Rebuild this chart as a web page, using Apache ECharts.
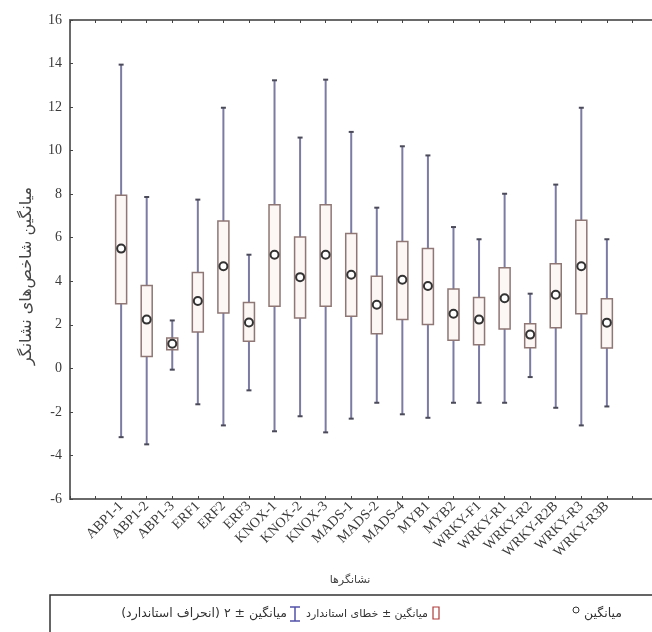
<!DOCTYPE html>
<html>
<head>
<meta charset="utf-8">
<script src="https://cdn.jsdelivr.net/npm/echarts@6/dist/echarts.min.js"></script>
<style>
html,body{margin:0;padding:0;background:#fff;overflow:hidden;}
#c{width:662px;height:632px;}
</style>
</head>
<body>
<div id="c"></div>
<script>
// ---- data ----
const categories = ['ABP1-1','ABP1-2','ABP1-3','ERF1','ERF2','ERF3','KNOX-1','KNOX-2','KNOX-3','MADS-1','MADS-2','MADS-4','MYB1','MYB2','WRKY-F1','WRKY-R1','WRKY-R2','WRKY-R2B','WRKY-R3','WRKY-R3B'];
const means   = [5.5, 2.24, 1.13, 3.09, 4.69, 2.11, 5.22, 4.19, 5.22, 4.3, 2.92, 4.07, 3.78, 2.51, 2.24, 3.22, 1.55, 3.38, 4.69, 2.1];
const seUpper = [7.95, 3.81, 1.39, 4.4, 6.77, 3.02, 7.52, 6.03, 7.52, 6.19, 4.23, 5.83, 5.5, 3.64, 3.25, 4.62, 2.05, 4.81, 6.8, 3.2];
const seLower = [2.97, 0.55, 0.86, 1.67, 2.54, 1.24, 2.85, 2.31, 2.85, 2.39, 1.59, 2.24, 2.02, 1.29, 1.09, 1.81, 0.95, 1.87, 2.51, 0.93];
const sdUpper = [13.95, 7.87, 2.2, 7.75, 11.97, 5.22, 13.23, 10.6, 13.26, 10.86, 7.38, 10.2, 9.78, 6.49, 5.93, 8.02, 3.43, 8.44, 11.97, 5.93];
const sdLower = [-3.16, -3.49, -0.06, -1.65, -2.62, -1.01, -2.89, -2.2, -2.94, -2.31, -1.58, -2.11, -2.27, -1.58, -1.58, -1.58, -0.4, -1.81, -2.62, -1.75];
const yTicks = {min: -6, max: 16, interval: 2};
const yTitle = 'میانگین شاخص‌های نشانگر';
const xTitle = 'نشانگرها';
const legendMean = 'میانگین';
const legendSE = '\u200Fمیانگین ± خطای استاندارد\u200F';
const legendSD = '\u200Fمیانگین ± ۲ (انحراف استاندارد)\u200F';

// axis slots: two empty slots on each side
const pad = ['_a','_b'];
const axisCats = pad.concat(categories, ['_c','_d']);
const off = 2;

const whiskerData = categories.map((c,i)=>[i+off, sdLower[i], sdUpper[i]]);
const boxData = categories.map((c,i)=>[i+off, seLower[i], seUpper[i]]);
const meanData = categories.map((c,i)=>[i+off, means[i]]);

const axisLineStyle = {color:'#6a6a6a', width:2};
const chart = echarts.init(document.getElementById('c'), null, {renderer:'canvas'});
const option = {
  animation:false,
  backgroundColor:'#fff',
  grid:{left:70, right:4, top:20, bottom:133},
  xAxis:[{
    type:'category', data:axisCats, boundaryGap:false, position:'bottom',
    axisLine:{onZero:false, lineStyle:axisLineStyle},
    axisTick:{inside:true, length:3, interval:0, lineStyle:{color:'#444'}},
    axisLabel:{interval:0, rotate:45, margin:5, fontFamily:'Liberation Serif', fontSize:14, color:'#3a3a3a',
      formatter:v=>v.charAt(0)==='_'?'':v},
    splitLine:{show:false}
  },{
    type:'category', data:axisCats, boundaryGap:false, position:'top',
    axisLine:{onZero:false, lineStyle:axisLineStyle},
    axisTick:{inside:true, length:3, interval:0, lineStyle:{color:'#444'}},
    axisLabel:{show:false}, splitLine:{show:false}
  }],
  yAxis:[{
    type:'value', min:yTicks.min, max:yTicks.max, interval:yTicks.interval, position:'left',
    axisLine:{show:true, onZero:false, lineStyle:axisLineStyle},
    axisTick:{show:true, inside:true, length:3, lineStyle:{color:'#444'}},
    axisLabel:{margin:8, fontFamily:'Liberation Serif', fontSize:14, color:'#3a3a3a'},
    splitLine:{show:false}
  },{
    type:'value', min:yTicks.min, max:yTicks.max, interval:yTicks.interval, position:'right',
    axisLine:{show:true, onZero:false, lineStyle:axisLineStyle},
    axisTick:{show:false}, axisLabel:{show:false}, splitLine:{show:false}
  }],
  series:[{
    type:'custom', name:'sd', data:whiskerData, z:2,
    renderItem:(params, api)=>{
      const x = api.value(0);
      const p1 = api.coord([x, api.value(1)]);
      const p2 = api.coord([x, api.value(2)]);
      return {type:'group', children:[
        {type:'line', shape:{x1:p1[0], y1:p1[1], x2:p2[0], y2:p2[1]}, style:{stroke:'#7b7ba3', lineWidth:2}},
        {type:'line', shape:{x1:p1[0]-2.5, y1:p1[1], x2:p1[0]+2.5, y2:p1[1]}, style:{stroke:'#4a4a5a', lineWidth:2}},
        {type:'line', shape:{x1:p2[0]-2.5, y1:p2[1], x2:p2[0]+2.5, y2:p2[1]}, style:{stroke:'#4a4a5a', lineWidth:2}}
      ]};
    }
  },{
    type:'custom', name:'se', data:boxData, z:3,
    renderItem:(params, api)=>{
      const x = api.value(0);
      const p1 = api.coord([x, api.value(1)]);
      const p2 = api.coord([x, api.value(2)]);
      const w = 11;
      return {type:'rect', shape:{x:p1[0]-w/2, y:p2[1], width:w, height:p1[1]-p2[1]},
        style:{fill:'#fcf6f4', stroke:'#8e7774', lineWidth:1.5}};
    }
  },{
    type:'scatter', name:'mean', data:meanData, z:4,
    symbol:'circle', symbolSize:8,
    itemStyle:{color:'#ffffff', borderColor:'#333333', borderWidth:2, opacity:1}
  }],
  graphic:[
    {type:'text', x:27, y:276, rotation:Math.PI/2,
      style:{text:yTitle, font:'16px "DejaVu Sans"', fill:'#444', align:'center', verticalAlign:'middle'}},
    {type:'text', x:350, y:580,
      style:{text:xTitle, font:'11px "DejaVu Sans"', fill:'#444', align:'center', verticalAlign:'middle'}},
    {type:'rect', shape:{x:50, y:595, width:700, height:60}, style:{fill:'none', stroke:'#333', lineWidth:1.5}},
    {type:'text', x:287, y:614, style:{text:legendSD, font:'12.5px "DejaVu Sans"', fill:'#333', align:'right', verticalAlign:'middle'}},
    {type:'group', children:[
      {type:'line', shape:{x1:295, y1:607, x2:295, y2:621}, style:{stroke:'#5050a8', lineWidth:1.5}},
      {type:'line', shape:{x1:290, y1:607, x2:300, y2:607}, style:{stroke:'#5050a8', lineWidth:1.5}},
      {type:'line', shape:{x1:290, y1:621, x2:300, y2:621}, style:{stroke:'#5050a8', lineWidth:1.5}}
    ]},
    {type:'text', x:428, y:614, style:{text:legendSE, font:'11px "DejaVu Sans"', fill:'#333', align:'right', verticalAlign:'middle'}},
    {type:'rect', shape:{x:433, y:607, width:6, height:12}, style:{fill:'none', stroke:'#b03a3a', lineWidth:1.2}},
    {type:'circle', shape:{cx:576, cy:610, r:3}, style:{fill:'none', stroke:'#333', lineWidth:1}},
    {type:'text', x:584, y:614, style:{text:legendMean, font:'12.5px "DejaVu Sans"', fill:'#333', align:'left', verticalAlign:'middle'}}
  ]
};
chart.setOption(option);
</script>
</body>
</html>
